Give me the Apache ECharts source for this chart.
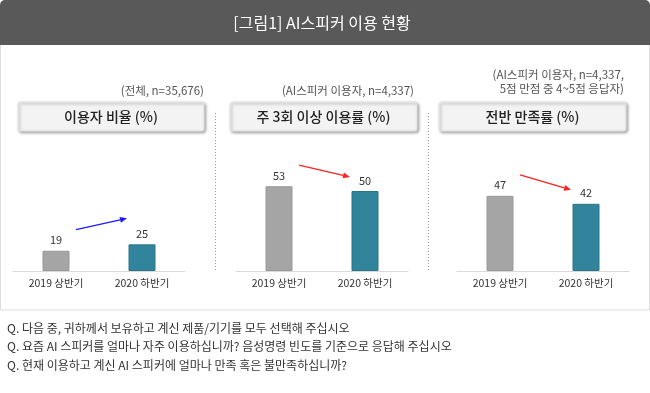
<!DOCTYPE html>
<html><head><meta charset="utf-8">
<script src="https://cdn.jsdelivr.net/npm/echarts@6/dist/echarts.min.js"></script>
<style>html,body{margin:0;padding:0;background:#fff;}#c{width:650px;height:393px;}</style>
</head><body><div id="c"></div>
<script>
const FONT = '"Noto Sans CJK KR","Noto Sans",sans-serif';
const mainTitle = '[그림1] AI스피커 이용 현황';
const categories = ['2019 상반기', '2020 하반기'];
const userRate = [19, 25];
const weeklyUse3Plus = [53, 50];
const satisfaction = [47, 42];
const panelTitles = ['이용자 비율 (%)', '주 3회 이상 이용률 (%)', '전반 만족률 (%)'];
const panelNotes = [['(전체, n=35,676)'], ['(AI스피커 이용자, n=4,337)'], ['(AI스피커 이용자, n=4,337,', '5점 만점 중 4~5점 응답자)']];
const questions = [
  'Q. 다음 중, 귀하께서 보유하고 계신 제품/기기를 모두 선택해 주십시오',
  'Q. 요즘 AI 스피커를 얼마나 자주 이용하십니까? 음성명령 빈도를 기준으로 응답해 주십시오',
  'Q. 현재 이용하고 계신 AI 스피커에 얼마나 만족 혹은 불만족하십니까?'
];

const seriesValues = [userRate, weeklyUse3Plus, satisfaction];
const axisMax = [150, 100, 100];
const gridLefts = [13, 236, 457];
const boxX = [18, 230, 439];
const boxW = [186, 187, 187];
const noteRight = [204, 414, 624];
const barColors = ['#a5a5a5', '#31849b'];
const barBorders = ['#999999', '#2b758a'];
const arrowColors = ['#1a1aff', '#ff2222', '#ff2222'];

const chart = echarts.init(document.getElementById('c'));

const grids = [], xAxes = [], yAxes = [], series = [];
seriesValues.forEach((vals, i) => {
  grids.push({left: gridLefts[i], width: 172, top: 111, height: 160});
  xAxes.push({type: 'category', gridIndex: i, data: categories,
    axisLine: {lineStyle: {color: '#d9d9d9', width: 1}}, axisTick: {show: false},
    axisLabel: {color: '#333', fontSize: 10.5, fontFamily: FONT, margin: 7}});
  yAxes.push({type: 'value', gridIndex: i, min: 0, max: axisMax[i], show: false, splitLine: {show: false}});
  series.push({type: 'bar', xAxisIndex: i, yAxisIndex: i, barWidth: 27,
    data: vals.map((v, k) => ({value: v, itemStyle: {color: barColors[k], borderColor: barBorders[k], borderWidth: 1}})),
    label: {show: true, position: 'top', distance: 5, color: '#333', fontSize: 11, fontFamily: FONT},
    silent: true});
});

const graphic = [];
graphic.push({type: 'rect', shape: {x: 0, y: 0, width: 650, height: 45, r: [5, 5, 0, 0]}, style: {fill: '#595959'}, z: 10});
graphic.push({type: 'text', x: 322, y: 23, style: {text: mainTitle, fill: '#fff', font: '16px ' + FONT, textAlign: 'center', textVerticalAlign: 'middle'}, z: 11});
graphic.push({type: 'rect', shape: {x: 0.5, y: 44.5, width: 649, height: 265.5}, style: {fill: 'none', stroke: '#dddddd', lineWidth: 1}, z: 1});
[215.5, 428.5].forEach(x => graphic.push({type: 'line', shape: {x1: x, y1: 113, x2: x, y2: 270}, style: {stroke: '#9a9a9a', lineWidth: 1, lineDash: [1, 2]}, z: 2}));
panelTitles.forEach((t, i) => {
  graphic.push({type: 'rect', shape: {x: boxX[i], y: 102, width: boxW[i], height: 29, r: 2},
    style: {fill: '#f3f3f3', stroke: '#e2e2e2', lineWidth: 1, shadowBlur: 3, shadowOffsetX: 1.5, shadowOffsetY: 1.5, shadowColor: 'rgba(0,0,0,0.35)'}, z: 3});
  graphic.push({type: 'text', x: boxX[i] + boxW[i] / 2, y: 117, style: {text: t, fill: '#222', font: '500 14px ' + FONT, textAlign: 'center', textVerticalAlign: 'middle'}, z: 4});
  const lines = panelNotes[i];
  lines.forEach((ln, k) => {
    const y = lines.length === 1 ? 91 : 75 + k * 14;
    graphic.push({type: 'text', x: noteRight[i], y: y, style: {text: ln, fill: '#555', font: '11.5px ' + FONT, textAlign: 'right', textVerticalAlign: 'middle'}, z: 4});
  });
});
questions.forEach((q, k) => {
  graphic.push({type: 'text', x: 7, y: 328 + k * 18.5, style: {text: q, fill: '#333', font: '12px ' + FONT, textAlign: 'left', textVerticalAlign: 'middle'}, z: 4});
});

chart.setOption({animation: false, backgroundColor: '#fff', grid: grids, xAxis: xAxes, yAxis: yAxes, series: series, graphic: graphic});

const arrowGraphics = [];
seriesValues.forEach((vals, i) => {
  const p0 = chart.convertToPixel({gridIndex: i}, [0, vals[0]]);
  const p1 = chart.convertToPixel({gridIndex: i}, [1, vals[1]]);
  const up = vals[1] > vals[0];
  const sx = p0[0] + 20, sy = p0[1] - 21;
  const ex = p1[0] - 15, ey = p1[1] - (up ? 26 : 14);
  const ang = Math.atan2(ey - sy, ex - sx);
  const L = 7, W = 3;
  const bx = ex - L * Math.cos(ang), by = ey - L * Math.sin(ang);
  arrowGraphics.push({type: 'line', shape: {x1: sx, y1: sy, x2: bx, y2: by}, style: {stroke: arrowColors[i], lineWidth: 1.3}, z: 5});
  arrowGraphics.push({type: 'polygon', shape: {points: [[ex, ey], [bx + W * Math.sin(ang), by - W * Math.cos(ang)], [bx - W * Math.sin(ang), by + W * Math.cos(ang)]]}, style: {fill: arrowColors[i]}, z: 5});
});
chart.setOption({graphic: graphic.concat(arrowGraphics)});
</script>
</body></html>
